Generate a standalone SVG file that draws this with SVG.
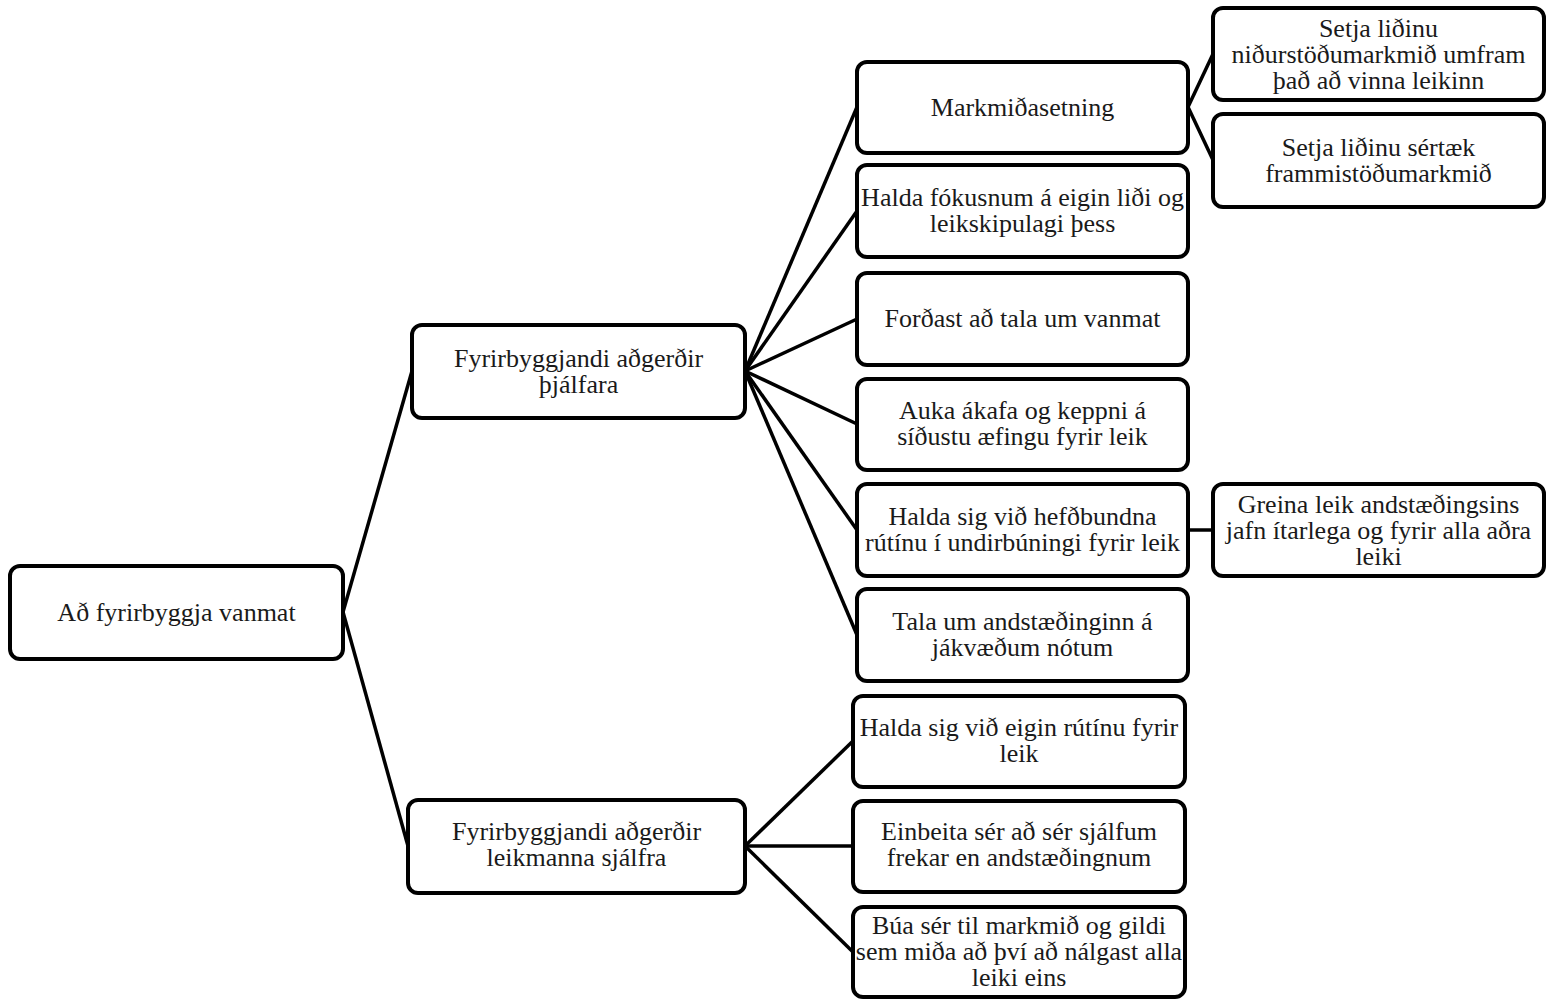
<svg xmlns="http://www.w3.org/2000/svg" width="1546" height="999" viewBox="0 0 1546 999">
<style>
.box{fill:#fff;stroke:#000;stroke-width:4}
text{font-family:'Liberation Serif','Times New Roman','DejaVu Serif',serif;font-size:26px;fill:#1a1a1a;text-anchor:middle;dominant-baseline:central}
.c{stroke:#000;stroke-width:3.5;fill:none}
</style>
<rect width="1546" height="999" fill="#fff"/>
<g id="connectors">
<line class="c" x1="343" y1="612" x2="412" y2="371"/>
<line class="c" x1="343" y1="612" x2="408" y2="846"/>
<line class="c" x1="745" y1="371" x2="857" y2="107"/>
<line class="c" x1="745" y1="371" x2="857" y2="211"/>
<line class="c" x1="745" y1="371" x2="857" y2="319"/>
<line class="c" x1="745" y1="371" x2="857" y2="424"/>
<line class="c" x1="745" y1="371" x2="857" y2="530"/>
<line class="c" x1="745" y1="371" x2="857" y2="635"/>
<line class="c" x1="1188" y1="107" x2="1213" y2="54"/>
<line class="c" x1="1188" y1="107" x2="1213" y2="160"/>
<line class="c" x1="1188" y1="530" x2="1213" y2="530"/>
<line class="c" x1="745" y1="846" x2="853" y2="741"/>
<line class="c" x1="745" y1="846" x2="853" y2="846"/>
<line class="c" x1="745" y1="846" x2="853" y2="952"/>
</g>
<g font-family="Liberation Serif, serif">
<g id="root"><rect class="box" x="10" y="566" width="333" height="93" rx="10"/><text x="176.5" y="612">Að fyrirbyggja vanmat</text></g>
<g id="n-thjalfara"><rect class="box" x="412" y="325" width="333" height="93" rx="10"/><text x="578.5" y="358">Fyrirbyggjandi aðgerðir</text><text x="578.5" y="384">þjálfara</text></g>
<g id="n-leikmanna"><rect class="box" x="408" y="800" width="337" height="93" rx="10"/><text x="576.5" y="831">Fyrirbyggjandi aðgerðir</text><text x="576.5" y="857">leikmanna sjálfra</text></g>
<g id="n-markmid"><rect class="box" x="857" y="62" width="331" height="91" rx="10"/><text x="1022.5" y="107">Markmiðasetning</text></g>
<g id="n-fokus"><rect class="box" x="857" y="165" width="331" height="92" rx="10"/><text x="1022.5" y="197">Halda fókusnum á eigin liði og</text><text x="1022.5" y="223">leikskipulagi þess</text></g>
<g id="n-fordast"><rect class="box" x="857" y="273" width="331" height="92" rx="10"/><text x="1022.5" y="318">Forðast að tala um vanmat</text></g>
<g id="n-auka"><rect class="box" x="857" y="379" width="331" height="91" rx="10"/><text x="1022.5" y="410">Auka ákafa og keppni á</text><text x="1022.5" y="436">síðustu æfingu fyrir leik</text></g>
<g id="n-hefdbundna"><rect class="box" x="857" y="484" width="331" height="92" rx="10"/><text x="1022.5" y="516">Halda sig við hefðbundna</text><text x="1022.5" y="542">rútínu í undirbúningi fyrir leik</text></g>
<g id="n-tala"><rect class="box" x="857" y="589" width="331" height="92" rx="10"/><text x="1022.5" y="621">Tala um andstæðinginn á</text><text x="1022.5" y="647">jákvæðum nótum</text></g>
<g id="n-eigin"><rect class="box" x="853" y="696" width="332" height="91" rx="10"/><text x="1019" y="727">Halda sig við eigin rútínu fyrir</text><text x="1019" y="753">leik</text></g>
<g id="n-einbeita"><rect class="box" x="853" y="801" width="332" height="91" rx="10"/><text x="1019" y="831">Einbeita sér að sér sjálfum</text><text x="1019" y="857">frekar en andstæðingnum</text></g>
<g id="n-bua"><rect class="box" x="853" y="907" width="332" height="90" rx="10"/><text x="1019" y="925">Búa sér til markmið og gildi</text><text x="1019" y="951">sem miða að því að nálgast alla</text><text x="1019" y="977">leiki eins</text></g>
<g id="n-nidurstodu"><rect class="box" x="1213" y="8" width="331" height="92" rx="10"/><text x="1378.5" y="28">Setja liðinu</text><text x="1378.5" y="54">niðurstöðumarkmið umfram</text><text x="1378.5" y="80">það að vinna leikinn</text></g>
<g id="n-sertaek"><rect class="box" x="1213" y="114" width="331" height="93" rx="10"/><text x="1378.5" y="147">Setja liðinu sértæk</text><text x="1378.5" y="173">frammistöðumarkmið</text></g>
<g id="n-greina"><rect class="box" x="1213" y="484" width="331" height="92" rx="10"/><text x="1378.5" y="504">Greina leik andstæðingsins</text><text x="1378.5" y="530">jafn ítarlega og fyrir alla aðra</text><text x="1378.5" y="556">leiki</text></g>
</g>
</svg>
